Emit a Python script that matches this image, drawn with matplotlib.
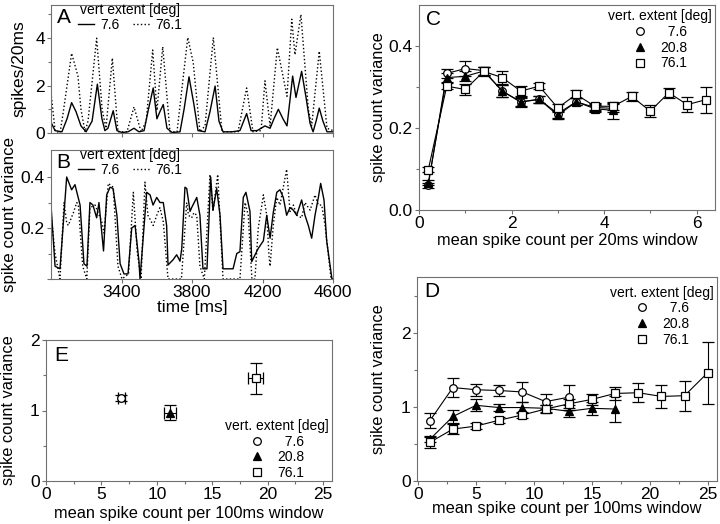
import matplotlib
matplotlib.use('Agg')
import matplotlib.pyplot as plt
from matplotlib.lines import Line2D
from matplotlib.ticker import MultipleLocator, FixedLocator

plt.rcParams['font.family'] = ['Liberation Sans', 'DejaVu Sans']

# ---------------- Panel A: spikes/20ms time course ----------------
a_t_76 = [3000, 3023, 3051, 3068, 3117, 3153, 3170, 3193, 3210, 3259, 3290, 3312, 3348, 3380,
          3431, 3471, 3511, 3540, 3577, 3601, 3634, 3675, 3715, 3776, 3807, 3845, 3874, 3921,
          3970, 4061, 4110, 4146, 4192, 4214, 4243, 4284, 4339, 4366, 4384, 4418, 4460, 4479,
          4522, 4566, 4600]
a_v_76 = [1.7, 0.1, 0.0, 0.8, 3.36, 2.4, 1.0, 0.05, 0.5, 4.0, 1.0, 0.2, 3.16, 0.05,
          0.05, 1.1, 0.05, 0.5, 3.5, 0.95, 3.64, 0.05, 0.05, 4.03, 2.97, 0.05, 0.3, 4.03,
          0.05, 0.05, 1.9, 0.05, 0.1, 2.2, 0.3, 3.6, 1.55, 4.8, 3.3, 5.0, 1.0, 0.3,
          3.45, 0.2, 0.1]
a_t_7 = [3000, 3023, 3062, 3091, 3117, 3142, 3170, 3199, 3233, 3263, 3289, 3306, 3323, 3353,
         3374, 3403, 3437, 3471, 3499, 3528, 3550, 3580, 3601, 3618, 3637, 3658, 3687, 3732,
         3755, 3783, 3811, 3834, 3874, 3902, 3931, 3953, 3976, 4027, 4072, 4110, 4135, 4169,
         4192, 4214, 4243, 4265, 4290, 4316, 4339, 4356, 4371, 4390, 4422, 4447, 4470, 4487,
         4504, 4522, 4543, 4566, 4600]
a_v_7 = [0.45, 0.1, 0.05, 0.6, 1.28, 0.9, 0.3, 0.05, 0.5, 2.06, 0.6, 0.1, 0.2, 0.94,
         0.1, 0.02, 0.05, 0.2, 0.05, 0.1, 0.9, 1.9, 0.6, 0.9, 1.2, 0.2, 0.02, 0.05,
         1.0, 2.37, 1.2, 0.1, 0.05, 0.9, 1.98, 0.5, 0.05, 0.05, 0.1, 0.82, 0.1, 0.1,
         0.2, 0.3, 0.2, 0.6, 1.0, 0.6, 0.3, 1.4, 2.4, 1.5, 2.6, 1.5, 0.4, 0.05,
         0.5, 1.05, 0.5, 0.05, 0.05]

# ---------------- Panel B: spike count variance time course ----------------
b_t_7 = [3000, 3023, 3051, 3089, 3117, 3136, 3165, 3187, 3204, 3221, 3238, 3259, 3272, 3298,
         3316, 3335, 3352, 3374, 3392, 3414, 3437, 3458, 3477, 3499, 3505, 3543, 3562, 3579,
         3600, 3618, 3637, 3656, 3664, 3692, 3713, 3732, 3742, 3760, 3770, 3789, 3798, 3827,
         3845, 3862, 3885, 3906, 3919, 3940, 3959, 3976, 4033, 4054, 4072, 4091, 4106, 4129,
         4139, 4157, 4176, 4205, 4224, 4243, 4261, 4281, 4299, 4318, 4337, 4356, 4375, 4394,
         4422, 4441, 4460, 4479, 4498, 4517, 4530, 4549, 4564, 4594, 4600]
b_v_7 = [0.29, 0.05, 0.04, 0.40, 0.35, 0.37, 0.29, 0.06, 0.05, 0.30, 0.29, 0.24, 0.30, 0.11,
         0.33, 0.36, 0.355, 0.25, 0.06, 0.02, 0.02, 0.20, 0.21, 0.07, 0.0, 0.34, 0.33, 0.29,
         0.32, 0.30, 0.30, 0.21, 0.055, 0.075, 0.095, 0.07, 0.12, 0.36, 0.355, 0.265, 0.28, 0.32,
         0.25, 0.04, 0.04, 0.40, 0.27, 0.355, 0.25, 0.04, 0.04, 0.10, 0.107, 0.32, 0.34, 0.265,
         0.068, 0.094, 0.12, 0.15, 0.25, 0.16, 0.26, 0.34, 0.35, 0.32, 0.25, 0.28, 0.27, 0.25,
         0.31, 0.25, 0.21, 0.16, 0.25, 0.32, 0.375, 0.31, 0.15, 0.0, 0.0]
b_t_76 = [3000, 3023, 3051, 3074, 3089, 3098, 3127, 3146, 3155, 3180, 3203, 3221, 3250, 3288,
          3301, 3325, 3353, 3380, 3403, 3440, 3467, 3490, 3511, 3533, 3550, 3580, 3600, 3618,
          3637, 3664, 3740, 3770, 3780, 3798, 3811, 3827, 3845, 3870, 3902, 3919, 3946, 3976,
          4072, 4101, 4119, 4140, 4157, 4176, 4205, 4224, 4237, 4243, 4261, 4281, 4299, 4337,
          4356, 4375, 4394, 4422, 4441, 4470, 4498, 4517, 4536, 4555, 4589, 4600]
b_v_76 = [0.26, 0.10, 0.0, 0.30, 0.22, 0.21, 0.26, 0.30, 0.29, 0.05, 0.0, 0.28, 0.29, 0.225,
          0.18, 0.375, 0.36, 0.05, 0.0, 0.02, 0.34, 0.1, 0.0, 0.38, 0.25, 0.21, 0.25, 0.28,
          0.225, 0.0, 0.0, 0.30, 0.25, 0.24, 0.26, 0.25, 0.05, 0.0, 0.41, 0.265, 0.41, 0.0,
          0.0, 0.30, 0.25, 0.0, 0.0, 0.2, 0.33, 0.25, 0.09, 0.05, 0.21, 0.32, 0.29, 0.43,
          0.265, 0.29, 0.25, 0.24, 0.30, 0.27, 0.33, 0.29, 0.29, 0.21, 0.0, 0.0]

time_ticks = [3400, 3800, 4200, 4600]

# ---------------- Panel C: 20 ms windows ----------------
c_x_7 = [0.2, 0.6, 1.0, 1.4, 1.8, 2.2, 2.6, 3.0, 3.4, 3.8, 4.2]
c_y_7 = [0.060, 0.333, 0.345, 0.340, 0.290, 0.264, 0.270, 0.235, 0.264, 0.250, 0.248]
c_e_7 = [0.006, 0.010, 0.018, 0.010, 0.015, 0.010, 0.008, 0.010, 0.008, 0.008, 0.010]
c_x_20 = [0.2, 0.6, 1.0, 1.4, 1.8, 2.2, 2.6, 3.0, 3.4, 3.8, 4.2]
c_y_20 = [0.066, 0.323, 0.326, 0.339, 0.290, 0.263, 0.270, 0.231, 0.264, 0.247, 0.243]
c_e_20 = [0.006, 0.010, 0.012, 0.010, 0.015, 0.012, 0.008, 0.010, 0.008, 0.008, 0.020]
c_x_76 = [0.2, 0.6, 1.0, 1.4, 1.8, 2.2, 2.6, 3.0, 3.4, 3.8, 4.2, 4.6, 5.0, 5.4, 5.8, 6.2]
c_y_76 = [0.098, 0.302, 0.294, 0.338, 0.323, 0.290, 0.302, 0.249, 0.282, 0.253, 0.253,
          0.277, 0.241, 0.286, 0.257, 0.269]
c_e_76 = [0.006, 0.008, 0.014, 0.010, 0.015, 0.012, 0.008, 0.010, 0.010, 0.008, 0.008,
          0.010, 0.015, 0.012, 0.018, 0.032]

# ---------------- Panel D: 100 ms windows ----------------
d_x_7 = [1, 3, 5, 7, 9, 11, 13]
d_y_7 = [0.81, 1.26, 1.23, 1.22, 1.20, 1.07, 1.13]
d_e_7 = [0.10, 0.13, 0.08, 0.08, 0.14, 0.10, 0.17]
d_x_20 = [1, 3, 5, 7, 9, 11, 13, 15, 17]
d_y_20 = [0.56, 0.87, 1.02, 0.99, 0.99, 0.98, 0.94, 0.98, 0.97]
d_e_20 = [0.04, 0.09, 0.08, 0.05, 0.07, 0.05, 0.08, 0.09, 0.17]
d_x_76 = [1, 3, 5, 7, 9, 11, 13, 15, 17, 19, 21, 23, 25]
d_y_76 = [0.52, 0.70, 0.74, 0.82, 0.89, 0.97, 1.04, 1.10, 1.18, 1.19, 1.14, 1.15, 1.46]
d_e_76 = [0.07, 0.07, 0.04, 0.04, 0.04, 0.05, 0.06, 0.07, 0.09, 0.13, 0.15, 0.20, 0.42]

# ---------------- Panel E: averages ----------------
e_x = [6.8, 11.2, 18.9]
e_y = [1.18, 0.97, 1.46]
e_xerr = [0.3, 0.55, 0.65]
e_yerr = [0.04, 0.11, 0.22]

extents = ['7.6', '20.8', '76.1']
legend_labels = ['  7.6', '20.8', '76.1']

W, H = 720, 524
fig = plt.figure(figsize=(W / 100, H / 100), dpi=100)


def rect(x0, y0, x1, y1):
    return [x0 / W, (H - y1) / H, (x1 - x0) / W, (y1 - y0) / H]


FRAME = '#707070'
TICK_FS = 12.5
LAB_FS = 11.8
LEG_FS = 10
LET_FS = 15


def style(ax):
    for s in ax.spines.values():
        s.set_color(FRAME)
        s.set_linewidth(0.8)
    ax.tick_params(which='both', direction='out', color=FRAME, width=0.8,
                   labelsize=TICK_FS, pad=1.5)
    ax.tick_params(which='major', length=3.0)
    ax.tick_params(which='minor', length=2.2)


axA = fig.add_axes(rect(51, 5, 333, 133))
axB = fig.add_axes(rect(51, 150, 333, 279))
axC = fig.add_axes(rect(419, 5, 715, 210))
axD = fig.add_axes(rect(417, 277, 717, 481))
axE = fig.add_axes(rect(46, 340, 332, 481))
for ax in (axA, axB, axC, axD, axE):
    style(ax)

# Panel A
axA.plot(a_t_7, a_v_7, color='black', lw=1.0, ls='-', label='7.6')
axA.plot(a_t_76, a_v_76, color='black', lw=1.0, ls=':', label='76.1')
axA.set_xlim(3000, 4600)
axA.set_ylim(0, 5.4)
axA.set_xticks(time_ticks)
axA.set_xticklabels([])
axA.set_yticks([0, 2, 4])
axA.yaxis.set_minor_locator(FixedLocator([1, 3, 5]))
axA.set_ylabel('spikes/20ms', fontsize=12.5)
axA.yaxis.set_label_coords(-0.088, 0.5)
axA.text(0.02, 0.975, 'A', transform=axA.transAxes, fontsize=LET_FS, ha='left', va='top')
axA.legend(loc='upper left', bbox_to_anchor=(0.09, 1.03), ncol=2, frameon=False,
           fontsize=LEG_FS, title='vert extent [deg]', title_fontsize=LEG_FS,
           handlelength=1.2, handletextpad=0.4, columnspacing=1.0, borderpad=0.1,
           labelspacing=0.1, borderaxespad=0.0)

# Panel B
axB.plot(b_t_7, b_v_7, color='black', lw=1.0, ls='-', label='7.6')
axB.plot(b_t_76, b_v_76, color='black', lw=1.0, ls=':', label='76.1')
axB.set_xlim(3000, 4600)
axB.set_ylim(0, 0.506)
axB.set_xticks(time_ticks)
axB.set_xticklabels([str(t) for t in time_ticks])
axB.set_yticks([0, 0.2, 0.4])
axB.set_yticklabels(['', '0.2', '0.4'])
axB.yaxis.set_minor_locator(FixedLocator([0.1, 0.3]))
axB.set_ylabel('spike count variance', fontsize=12.2)
axB.yaxis.set_label_coords(-0.122, 0.5)
axB.set_xlabel('time [ms]', fontsize=12.5)
axB.xaxis.set_label_coords(0.5, -0.16)
axB.text(0.02, 0.975, 'B', transform=axB.transAxes, fontsize=LET_FS, ha='left', va='top')
axB.legend(loc='upper left', bbox_to_anchor=(0.09, 1.03), ncol=2, frameon=False,
           fontsize=LEG_FS, title='vert extent [deg]', title_fontsize=LEG_FS,
           handlelength=1.2, handletextpad=0.4, columnspacing=1.0, borderpad=0.1,
           labelspacing=0.1, borderaxespad=0.0)

MK = dict(o=dict(marker='o', mfc='white', mec='black', ms=5.5),
          t=dict(marker='^', mfc='black', mec='black', ms=6),
          s=dict(marker='s', mfc='white', mec='black', ms=6))


def eb(ax, x, y, yerr, style_key, xerr=None, line=True):
    ax.errorbar(x, y, yerr=yerr, xerr=xerr, color='black', lw=0.8 if line else 0,
                ls='-' if line else 'none', elinewidth=0.8, capsize=4, capthick=0.8,
                mew=0.9, zorder=3, **MK[style_key])


def marker_legend(ax, loc, anchor):
    handles = [Line2D([], [], ls='none', color='black', mew=0.9, **MK[k]) for k in ('o', 't', 's')]
    ax.legend(handles, legend_labels, loc=loc, bbox_to_anchor=anchor, frameon=False,
              fontsize=LEG_FS, title='vert. extent [deg]', title_fontsize=LEG_FS,
              handlelength=1.0, handletextpad=0.9, borderpad=0.1, labelspacing=0.12,
              borderaxespad=0.0)


# Panel C
eb(axC, c_x_7, c_y_7, c_e_7, 'o')
eb(axC, c_x_20, c_y_20, c_e_20, 't')
eb(axC, c_x_76, c_y_76, c_e_76, 's')
axC.set_xlim(0, 6.4)
axC.set_ylim(0, 0.5)
axC.set_xticks([0, 2, 4, 6])
axC.xaxis.set_minor_locator(FixedLocator([1, 3, 5]))
axC.set_yticks([0, 0.2, 0.4])
axC.set_yticklabels(['0.0', '0.2', '0.4'])
axC.yaxis.set_minor_locator(FixedLocator([0.1, 0.3]))
axC.set_ylabel('spike count variance', fontsize=LAB_FS)
axC.yaxis.set_label_coords(-0.112, 0.5)
axC.set_xlabel('mean spike count per 20ms window', fontsize=LAB_FS)
axC.xaxis.set_label_coords(0.5, -0.11)
axC.text(0.025, 0.975, 'C', transform=axC.transAxes, fontsize=LET_FS, ha='left', va='top')
marker_legend(axC, 'upper right', (0.995, 0.985))

# Panel D
eb(axD, d_x_7, d_y_7, d_e_7, 'o')
eb(axD, d_x_20, d_y_20, d_e_20, 't')
eb(axD, d_x_76, d_y_76, d_e_76, 's')
axD.set_xlim(-0.1, 25.8)
axD.set_ylim(0, 2.75)
axD.set_xticks([0, 5, 10, 15, 20, 25])
axD.xaxis.set_minor_locator(MultipleLocator(2.5))
axD.set_yticks([0, 1, 2])
axD.yaxis.set_minor_locator(FixedLocator([0.5, 1.5, 2.5]))
axD.set_ylabel('spike count variance', fontsize=LAB_FS)
axD.yaxis.set_label_coords(-0.105, 0.5)
axD.set_xlabel('mean spike count per 100ms window', fontsize=LAB_FS)
axD.xaxis.set_label_coords(0.5, -0.098)
axD.text(0.025, 0.975, 'D', transform=axD.transAxes, fontsize=LET_FS, ha='left', va='top')
marker_legend(axD, 'upper right', (0.995, 0.965))

# Panel E
for i, k in enumerate(('o', 't', 's')):
    eb(axE, [e_x[i]], [e_y[i]], [e_yerr[i]], k, xerr=[e_xerr[i]], line=False)
axE.set_xlim(0, 25.8)
axE.set_ylim(0, 2)
axE.set_xticks([0, 5, 10, 15, 20, 25])
axE.xaxis.set_minor_locator(MultipleLocator(2.5))
axE.set_yticks([0, 1, 2])
axE.yaxis.set_minor_locator(FixedLocator([0.5, 1.5]))
axE.set_ylabel('spike count variance', fontsize=LAB_FS)
axE.yaxis.set_label_coords(-0.105, 0.5)
axE.set_xlabel('mean spike count per 100ms window', fontsize=LAB_FS)
axE.xaxis.set_label_coords(0.5, -0.18)
axE.text(0.03, 0.96, 'E', transform=axE.transAxes, fontsize=LET_FS, ha='left', va='top')
marker_legend(axE, 'upper right', (0.995, 0.45))

fig.savefig('out.png', dpi=100)
